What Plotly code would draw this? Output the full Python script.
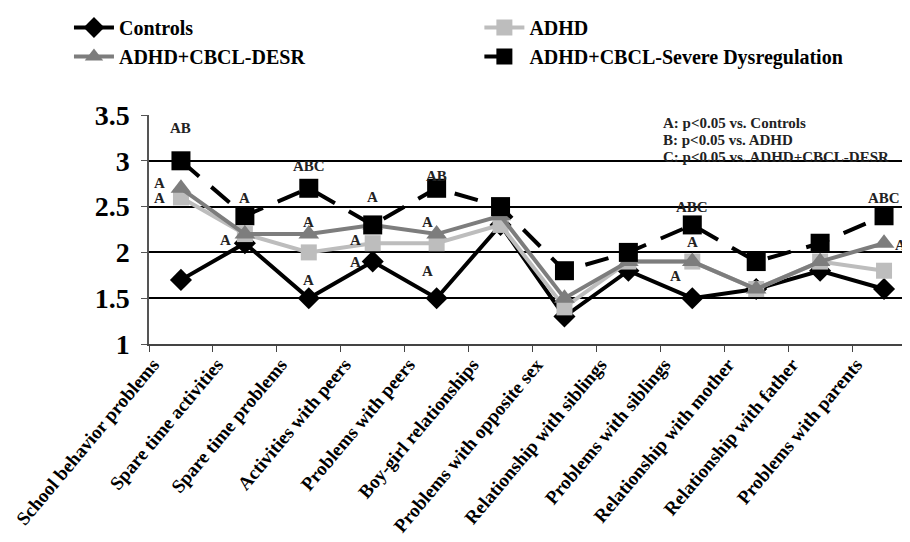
import plotly.graph_objects as go

categories = ["School behavior problems", "Spare time activities", "Spare time problems",
              "Activities with peers", "Problems with peers", "Boy-girl relationships",
              "Problems with opposite sex", "Relationship with siblings", "Problems with siblings",
              "Relationship with mother", "Relationship with father", "Problems with parents"]

controls = [1.7, 2.1, 1.5, 1.9, 1.5, 2.3, 1.3, 1.8, 1.5, 1.6, 1.8, 1.6]
adhd = [2.6, 2.2, 2.0, 2.1, 2.1, 2.3, 1.4, 1.9, 1.9, 1.6, 1.9, 1.8]
adhd_desr = [2.7, 2.2, 2.2, 2.3, 2.2, 2.4, 1.5, 1.9, 1.9, 1.6, 1.9, 2.1]
adhd_severe = [3.0, 2.4, 2.7, 2.3, 2.7, 2.5, 1.8, 2.0, 2.3, 1.9, 2.1, 2.4]

# significance labels: (category index, text, y value, horizontal shift in category units)
sig_labels = [
    (0, "AB", 3.36, 0.0), (0, "A", 2.76, -0.33), (0, "A", 2.59, -0.33),
    (1, "A", 2.59, 0.0), (1, "A", 2.13, -0.3),
    (2, "ABC", 2.94, 0.0), (2, "A", 2.33, 0.0), (2, "A", 1.70, 0.0),
    (3, "A", 2.60, 0.0), (3, "A", 2.14, -0.27), (3, "A", 1.90, -0.27),
    (4, "AB", 2.83, 0.0), (4, "A", 2.33, -0.15), (4, "A", 1.80, -0.15),
    (8, "ABC", 2.50, 0.0), (8, "A", 2.11, 0.0), (8, "A", 1.74, -0.27),
    (11, "ABC", 2.59, 0.0), (11, "A", 2.08, 0.25),
]

note_lines = ["A: p<0.05 vs. Controls", "B: p<0.05 vs. ADHD", "C: p<0.05 vs. ADHD+CBCL-DESR"]

SERIF = "Liberation Serif"

fig = go.Figure()
fig.add_trace(go.Scatter(x=categories, y=controls, name="Controls", mode="lines+markers",
                         line=dict(color="black", width=4), legend="legend",
                         marker=dict(symbol="diamond", size=17, color="black")))
fig.add_trace(go.Scatter(x=categories, y=adhd, name="ADHD", mode="lines+markers",
                         line=dict(color="#bdbdbd", width=4), legend="legend2",
                         marker=dict(symbol="square", size=16, color="#bdbdbd")))
fig.add_trace(go.Scatter(x=categories, y=adhd_desr, name="ADHD+CBCL-DESR", mode="lines+markers",
                         line=dict(color="#7d7d7d", width=4), legend="legend",
                         marker=dict(symbol="triangle-up", size=18, color="#7d7d7d")))
fig.add_trace(go.Scatter(x=categories, y=adhd_severe, name="ADHD+CBCL-Severe Dysregulation",
                         mode="lines+markers", legend="legend2",
                         line=dict(color="black", width=4, dash="24px,16px"),
                         marker=dict(symbol="square", size=19, color="black")))

for idx, txt, yv, dx in sig_labels:
    fig.add_annotation(x=idx + dx, y=yv, xref="x", yref="y", text="<b>%s</b>" % txt,
                       showarrow=False, font=dict(family=SERIF, size=15, color="#222"))

# note block in the upper right, one annotation per line
for i, line in enumerate(note_lines):
    fig.add_annotation(x=(654 - 141) / 767, y=1 - (115 + 17 * i - 107) / 229,
                       xref="paper", yref="paper", xanchor="left", yanchor="middle",
                       text="<b>%s</b>" % line, showarrow=False, borderpad=0,
                       font=dict(family=SERIF, size=15, color="#222"))

legend_common = dict(orientation="v", xref="container", yref="container",
                     xanchor="left", yanchor="top", traceorder="normal",
                     font=dict(family=SERIF, size=20, color="black", weight="bold"),
                     itemwidth=40, bgcolor="rgba(0,0,0,0)")

fig.update_layout(
    width=910, height=542,
    margin=dict(l=141, r=2, t=107, b=206, autoexpand=False),
    plot_bgcolor="white", paper_bgcolor="white",
    showlegend=True,
    legend=dict(x=0.067, y=1.03, **legend_common),
    legend2=dict(x=0.518, y=1.03, **legend_common),
    font=dict(family=SERIF, color="black"),
)
fig.update_xaxes(type="category", range=[-0.5, 11.5], tickson="boundaries", ticks="outside",
                 ticklen=6, tickcolor="#444", showline=True, linecolor="#444", linewidth=2,
                 showgrid=False, tickangle=-50, ticklabelshift=-28,
                 tickfont=dict(family=SERIF, size=19, color="black", weight="bold"))
fig.update_yaxes(range=[1, 3.5], tickvals=[1, 1.5, 2, 2.5, 3, 3.5],
                 ticktext=["1", "1.5", "2", "2.5", "3", "3.5"],
                 showgrid=True, gridcolor="black", gridwidth=1.5, zeroline=False,
                 showline=True, linecolor="#555", linewidth=1.5, ticks="outside", ticklen=6,
                 tickcolor="#555", ticklabelstandoff=6,
                 tickfont=dict(family=SERIF, size=28, color="black", weight="bold"))

fig.write_html("out.html")
